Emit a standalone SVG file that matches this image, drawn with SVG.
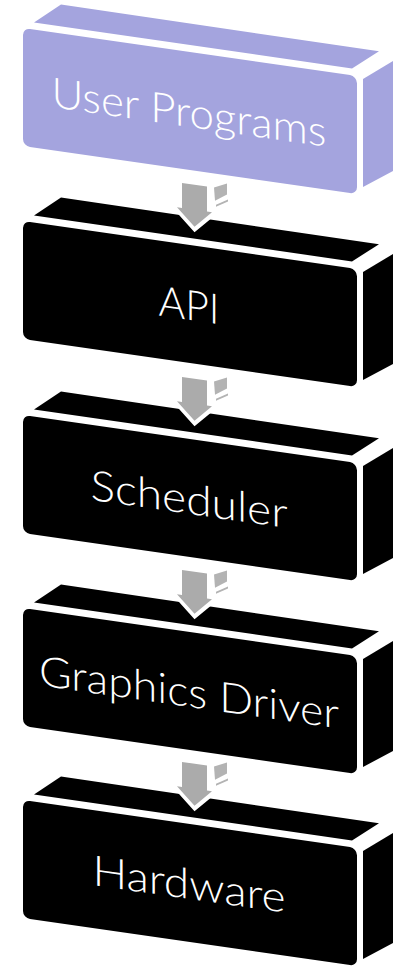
<svg xmlns="http://www.w3.org/2000/svg" width="393" height="967" viewBox="0 0 393 967">
<defs>
<style>
.bg{fill:#ffffff}
.node{fill:#000000}
.node.lav{fill:#A4A4DE}
.lbl{font-family:Lato,"Liberation Sans",sans-serif;font-weight:300;font-size:42px;fill:#ffffff;text-anchor:middle}
.arr{fill:#ABABAB;stroke:#ffffff;stroke-width:8;paint-order:stroke;stroke-linejoin:miter;stroke-miterlimit:10}
.side{fill:#B3B3B3}
</style>
<g id="box">
<polygon points="11,-7 329,-7 356,-28 38,-29"/>
<polygon points="340,2 371,-21 371,89 340,110"/>
<rect x="0" y="0" width="334" height="118" rx="7" ry="7"/>
</g>
<g id="arrow">
<polygon class="side" points="191,-61 204,-67 204,-56 192,-48"/>
<polygon class="side" points="193,-44 205,-51 205,-49 193,-42"/>
<polygon class="arr" points="159,-61 184,-61 184,-36 189,-36 171.5,-19 154,-36 159,-36"/>
</g>
</defs>
<rect class="bg" x="0" y="0" width="393" height="967"/>
<g id="user-programs" class="node lav" transform="translate(23,28) skewY(8.2)">
<use href="#box"/>
<text class="lbl" x="166" y="75" textLength="275" lengthAdjust="spacingAndGlyphs">User Programs</text>
</g>
<g id="api" class="node" transform="translate(23,221) skewY(8.2)">
<use href="#box"/>
<text class="lbl" x="166" y="75" textLength="61" lengthAdjust="spacingAndGlyphs">API</text>
</g>
<g id="scheduler" class="node" transform="translate(23,415) skewY(8.2)">
<use href="#box"/>
<text class="lbl" x="166" y="75" textLength="197" lengthAdjust="spacingAndGlyphs">Scheduler</text>
</g>
<g id="graphics-driver" class="node" transform="translate(23,608) skewY(8.2)">
<use href="#box"/>
<text class="lbl" x="166" y="75" textLength="300" lengthAdjust="spacingAndGlyphs">Graphics Driver</text>
</g>
<g id="hardware" class="node" transform="translate(23,800) skewY(8.2)">
<use href="#box"/>
<text class="lbl" x="166" y="75" textLength="193" lengthAdjust="spacingAndGlyphs">Hardware</text>
</g>
<g id="connectors">
<use href="#arrow" transform="translate(23,221) skewY(8.2)"/>
<use href="#arrow" transform="translate(23,415) skewY(8.2)"/>
<use href="#arrow" transform="translate(23,608) skewY(8.2)"/>
<use href="#arrow" transform="translate(23,800) skewY(8.2)"/>
</g>
</svg>
